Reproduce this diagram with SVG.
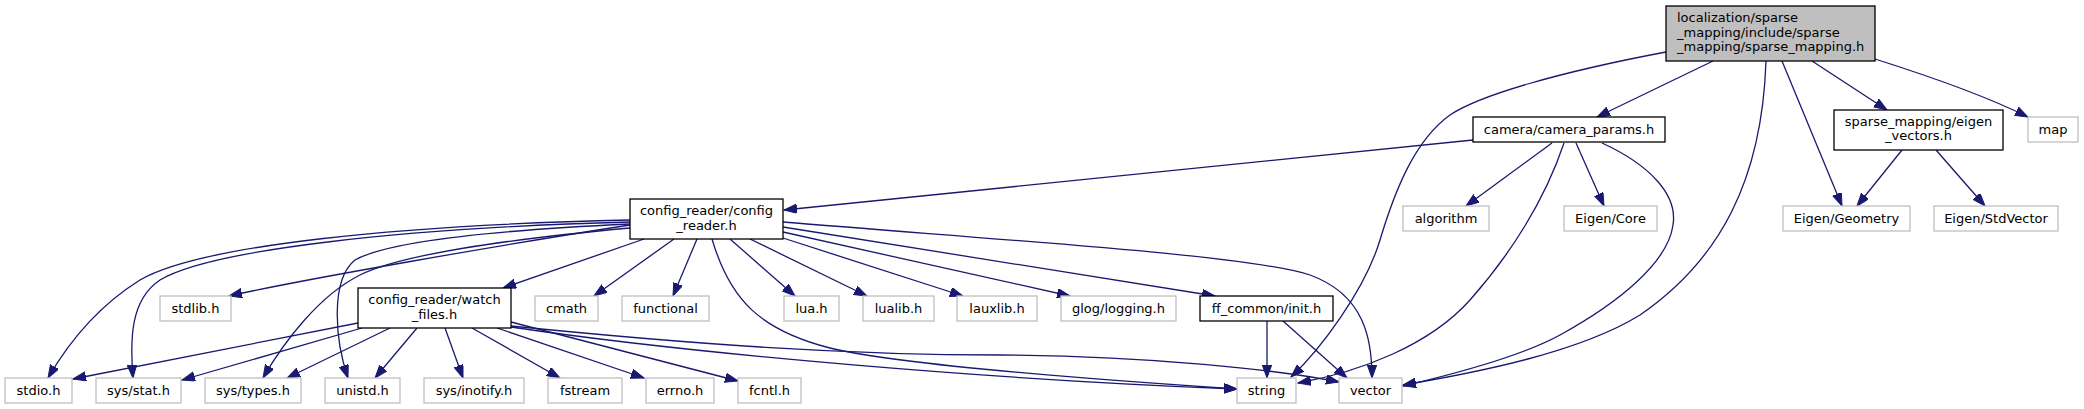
<svg xmlns="http://www.w3.org/2000/svg" width="2084" height="409" viewBox="0 0 2084 409">
<style>
text{font-family:"DejaVu Sans","Liberation Sans",sans-serif;font-size:13px;fill:#000;text-anchor:middle}
.doc{fill:#fff;stroke:#000;stroke-width:1.3}
.main{fill:#bfbfbf;stroke:#000;stroke-width:1.3}
.ext{fill:#fff;stroke:#bfbfbf;stroke-width:1.3}
#edges path{fill:none;stroke:#191970;stroke-width:1.3;marker-end:url(#ah)}
</style>
<defs>
<marker id="ah" markerUnits="userSpaceOnUse" markerWidth="14" markerHeight="10" refX="13" refY="4.7" orient="auto">
<path d="M0,0 L13,4.7 L0,9.4 z" fill="#191970" stroke="#191970" stroke-width="1"/>
</marker>
</defs>
<rect width="2084" height="409" fill="#fff"/>
<g id="edges">
<path d="M1713,61 L1597,117"/>
<path d="M1875,59 C1935,78 1990,98 2028,117"/>
<path d="M1812,61 L1887,110"/>
<path d="M1782,61 L1842,206"/>
<path d="M1766,61 C1762,180 1720,260 1640,315 C1580,352 1480,372 1403,385"/>
<path d="M1602,143 C1650,165 1678,195 1673,225 C1668,262 1620,302 1560,335 C1520,357 1450,375 1403,386"/>
<path d="M1564,143 C1545,200 1510,255 1470,300 C1430,345 1360,372 1298,383"/>
<path d="M1666,52 C1560,72 1480,95 1450,115 C1415,140 1395,190 1380,240 C1365,290 1320,350 1291,377"/>
<path d="M1552,143 L1466,206"/>
<path d="M1576,143 L1604,206"/>
<path d="M1473,140 L784,210"/>
<path d="M1902,150 L1857,206"/>
<path d="M1936,150 L1985,206"/>
<path d="M644,239 L503,288"/>
<path d="M674,239 L594,296"/>
<path d="M697,239 L673,296"/>
<path d="M730,239 L795,296"/>
<path d="M750,239 L867,296"/>
<path d="M783,238 L963,296"/>
<path d="M783,232 L1070,296"/>
<path d="M783,227 L1215,296"/>
<path d="M783,222 C1000,240 1250,255 1310,275 C1365,295 1372,340 1372,378"/>
<path d="M712,239 C730,300 760,330 830,348 C900,365 1100,380 1237,389"/>
<path d="M630,220 C400,225 200,245 140,280 C100,305 70,340 48,378"/>
<path d="M630,222 C400,228 210,250 160,280 C130,300 130,340 133,378"/>
<path d="M630,225 C500,245 300,280 229,296"/>
<path d="M630,228 C500,240 400,255 360,275 C320,295 285,340 263,378"/>
<path d="M630,224 C500,230 390,240 355,260 C330,280 335,340 348,378"/>
<path d="M358,323 L73,379"/>
<path d="M362,328 L182,380"/>
<path d="M390,328 L287,378"/>
<path d="M417,328 L375,378"/>
<path d="M445,328 L463,378"/>
<path d="M472,328 L560,378"/>
<path d="M497,328 L644,378"/>
<path d="M511,322 L738,381"/>
<path d="M511,326 C700,345 850,355 1000,355 C1150,356 1280,370 1339,382"/>
<path d="M511,327 C700,355 1000,380 1237,389"/>
<path d="M1267,321 L1267,378"/>
<path d="M1283,321 L1347,378"/>
</g>
<g id="n_main"><rect class="main" x="1666" y="6" width="209" height="55"/><text x="1677" y="22" style="text-anchor:start">localization/sparse</text><text x="1677" y="36.5" style="text-anchor:start">_mapping/include/sparse</text><text x="1677" y="51" style="text-anchor:start">_mapping/sparse_mapping.h</text></g>
<g id="n_camera"><rect class="doc" x="1473" y="117" width="192" height="25"/><text x="1569" y="134">camera/camera_params.h</text></g>
<g id="n_map"><rect class="ext" x="2028" y="117" width="50" height="25"/><text x="2053" y="134">map</text></g>
<g id="n_eigvec"><rect class="doc" x="1834" y="110" width="169" height="40"/><text x="1918.5" y="125.5">sparse_mapping/eigen</text><text x="1918.5" y="140">_vectors.h</text></g>
<g id="n_config"><rect class="doc" x="630" y="199" width="153" height="40"/><text x="706.5" y="215">config_reader/config</text><text x="706.5" y="229.5">_reader.h</text></g>
<g id="n_algorithm"><rect class="ext" x="1403" y="206" width="86" height="25"/><text x="1446" y="223">algorithm</text></g>
<g id="n_core"><rect class="ext" x="1564" y="206" width="93" height="25"/><text x="1610.5" y="223">Eigen/Core</text></g>
<g id="n_geometry"><rect class="ext" x="1783" y="206" width="127" height="25"/><text x="1846.5" y="223">Eigen/Geometry</text></g>
<g id="n_stdvector"><rect class="ext" x="1934" y="206" width="124" height="25"/><text x="1996" y="223">Eigen/StdVector</text></g>
<g id="n_stdlib"><rect class="ext" x="160" y="296" width="71" height="25"/><text x="195.5" y="313">stdlib.h</text></g>
<g id="n_watch"><rect class="doc" x="358" y="288" width="153" height="40"/><text x="434.5" y="304">config_reader/watch</text><text x="434.5" y="318.5">_files.h</text></g>
<g id="n_cmath"><rect class="ext" x="535" y="296" width="63" height="25"/><text x="566.5" y="313">cmath</text></g>
<g id="n_functional"><rect class="ext" x="622" y="296" width="87" height="25"/><text x="665.5" y="313">functional</text></g>
<g id="n_lua"><rect class="ext" x="784" y="296" width="55" height="25"/><text x="811.5" y="313">lua.h</text></g>
<g id="n_lualib"><rect class="ext" x="863" y="296" width="71" height="25"/><text x="898.5" y="313">lualib.h</text></g>
<g id="n_lauxlib"><rect class="ext" x="957" y="296" width="80" height="25"/><text x="997" y="313">lauxlib.h</text></g>
<g id="n_glog"><rect class="ext" x="1061" y="296" width="115" height="25"/><text x="1118.5" y="313">glog/logging.h</text></g>
<g id="n_ffcommon"><rect class="doc" x="1200" y="296" width="133" height="25"/><text x="1266.5" y="313">ff_common/init.h</text></g>
<g id="n_stdio"><rect class="ext" x="5" y="378" width="67" height="25"/><text x="38.5" y="395">stdio.h</text></g>
<g id="n_sysstat"><rect class="ext" x="96" y="378" width="85" height="25"/><text x="138.5" y="395">sys/stat.h</text></g>
<g id="n_systypes"><rect class="ext" x="205" y="378" width="96" height="25"/><text x="253" y="395">sys/types.h</text></g>
<g id="n_unistd"><rect class="ext" x="325" y="378" width="75" height="25"/><text x="362.5" y="395">unistd.h</text></g>
<g id="n_inotify"><rect class="ext" x="424" y="378" width="100" height="25"/><text x="474" y="395">sys/inotify.h</text></g>
<g id="n_fstream"><rect class="ext" x="548" y="378" width="74" height="25"/><text x="585" y="395">fstream</text></g>
<g id="n_errno"><rect class="ext" x="646" y="378" width="68" height="25"/><text x="680" y="395">errno.h</text></g>
<g id="n_fcntl"><rect class="ext" x="738" y="378" width="63" height="25"/><text x="769.5" y="395">fcntl.h</text></g>
<g id="n_string"><rect class="ext" x="1237" y="378" width="59" height="25"/><text x="1266.5" y="395">string</text></g>
<g id="n_vector"><rect class="ext" x="1339" y="378" width="63" height="25"/><text x="1370.5" y="395">vector</text></g>
</svg>
